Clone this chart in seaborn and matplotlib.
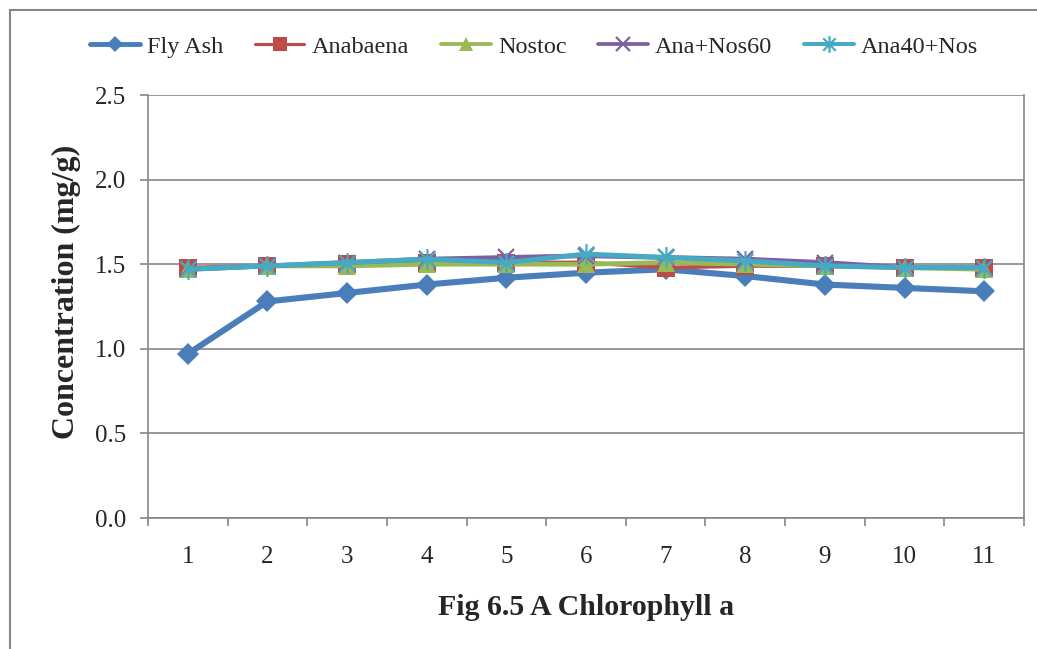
import numpy as np
import pandas as pd
import matplotlib
matplotlib.use("Agg")
import matplotlib.pyplot as plt
from matplotlib.path import Path
from matplotlib.lines import Line2D
from matplotlib.patches import Rectangle
import seaborn as sns

# Sampling points and chlorophyll-a concentrations (mg/g)
days = [1, 2, 3, 4, 5, 6, 7, 8, 9, 10, 11]
fly_ash = [0.97, 1.28, 1.33, 1.38, 1.42, 1.45, 1.47, 1.43, 1.38, 1.36, 1.34]
anabaena = [1.48, 1.49, 1.50, 1.51, 1.51, 1.51, 1.48, 1.49, 1.49, 1.48, 1.48]
nostoc = [1.47, 1.49, 1.49, 1.50, 1.50, 1.50, 1.51, 1.50, 1.49, 1.48, 1.47]
ana_nos60 = [1.47, 1.49, 1.51, 1.53, 1.54, 1.55, 1.54, 1.53, 1.51, 1.48, 1.48]
ana40_nos = [1.47, 1.49, 1.51, 1.53, 1.51, 1.56, 1.54, 1.52, 1.49, 1.48, 1.48]

series_names = ["Fly Ash", "Anabaena", "Nostoc", "Ana+Nos60", "Ana40+Nos"]
y_ticks = [0.0, 0.5, 1.0, 1.5, 2.0, 2.5]

df = pd.DataFrame({"day": days, "Fly Ash": fly_ash, "Anabaena": anabaena,
                   "Nostoc": nostoc, "Ana+Nos60": ana_nos60, "Ana40+Nos": ana40_nos})
long_df = df.melt(id_vars="day", var_name="series", value_name="conc")

# Asterisk-like star: vertical stroke plus two diagonals
star_path = Path(
    [(0, -1), (0, 1), (-0.75, -0.75), (0.75, 0.75), (-0.75, 0.75), (0.75, -0.75)],
    [Path.MOVETO, Path.LINETO, Path.MOVETO, Path.LINETO, Path.MOVETO, Path.LINETO],
)

styles = {
    "Fly Ash":   dict(color="#4A7EBB", marker="D", ms=11, lw=4.4, mew=0, filled=True),
    "Anabaena":  dict(color="#BE4B48", marker="s", ms=12.5, lw=2.8, mew=0, filled=True),
    "Nostoc":    dict(color="#98B954", marker="^", ms=13, lw=3.4, mew=0, filled=True),
    "Ana+Nos60": dict(color="#7D60A0", marker="x", ms=12, lw=3.4, mew=1.6, filled=False),
    "Ana40+Nos": dict(color="#46AAC5", marker=star_path, ms=15, lw=3.6, mew=1.6, filled=False),
}
legend_ms = {"Fly Ash": 8, "Anabaena": 10, "Nostoc": 10, "Ana+Nos60": 10, "Ana40+Nos": 12}

sns.set_theme(style="white")
plt.rcParams["font.family"] = ["Liberation Serif", "DejaVu Serif"]

fig = plt.figure(figsize=(10.37, 6.49), dpi=100)
ax = fig.add_axes([0.1427, 0.2018, 0.8448, 0.6518])

for name in series_names:
    st = styles[name]
    sub = long_df[long_df["series"] == name]
    sns.lineplot(
        data=sub, x="day", y="conc", ax=ax, color=st["color"], lw=st["lw"],
        marker=st["marker"], markersize=st["ms"], markeredgewidth=st["mew"],
        markeredgecolor=st["color"], markerfacecolor=st["color"] if st["filled"] else "none",
        legend=False, zorder=3,
    )

ax.set_xlim(0.5, 11.5)
ax.set_ylim(0, 2.5)
ax.set_yticks(y_ticks)
ax.set_yticklabels([f"{v:.1f}" for v in y_ticks], fontsize=18)
ax.set_xticks(days)
ax.set_xticklabels([str(d) for d in days], fontsize=18)
ax.set_xticks(np.arange(0.5, 12.0, 1.0), minor=True)
ax.tick_params(axis="x", which="major", length=0, pad=20)
ax.tick_params(axis="x", which="minor", length=6, width=1.2, color="#868686", direction="out", bottom=True)
ax.tick_params(axis="y", which="major", length=6, width=1.2, color="#868686", direction="out", left=True, pad=10)

ax.yaxis.grid(True, color="#868686", lw=1.2)
ax.xaxis.grid(False)
ax.set_axisbelow(True)
for side in ["left", "bottom", "right"]:
    ax.spines[side].set_color("#868686")
    ax.spines[side].set_linewidth(1.2)
ax.spines["top"].set_visible(False)

ax.set_xlabel("Fig 6.5 A Chlorophyll a", fontsize=21.5, fontweight="bold", labelpad=19)
ax.set_ylabel("Concentration (mg/g)", fontsize=23, fontweight="bold", labelpad=10)
ax.yaxis.label.set_y(0.535)

handles = []
for name in series_names:
    st = styles[name]
    handles.append(Line2D([0], [0], color=st["color"], lw=st["lw"] * 0.8, marker=st["marker"],
                          markersize=legend_ms[name], markeredgewidth=st["mew"],
                          markeredgecolor=st["color"],
                          markerfacecolor=st["color"] if st["filled"] else "none"))
fig.legend(handles, series_names, loc="center", bbox_to_anchor=(0.515, 0.928), ncol=5,
           frameon=False, fontsize=17.5, handlelength=2.05, columnspacing=1.3,
           handletextpad=0.3)

# Outer chart border
fig.patches.append(Rectangle((10 / 1037, -0.05), 1.2, (649 - 10) / 649 + 0.05,
                             transform=fig.transFigure, fill=False,
                             edgecolor="#868686", lw=1.5))

fig.savefig("out.png", dpi=100)
